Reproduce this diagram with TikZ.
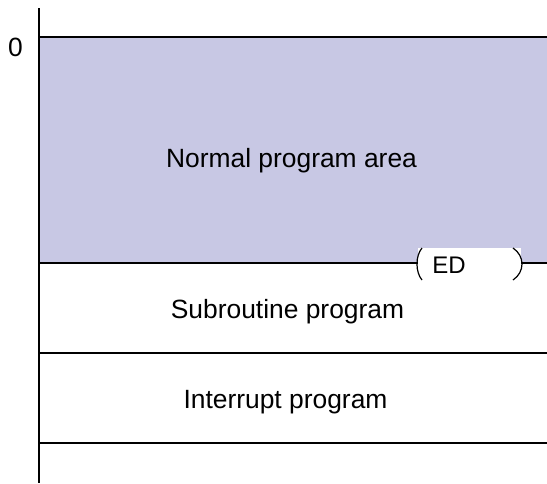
\documentclass[tikz,border=0pt]{standalone}
\usepackage{fontspec}
\setmainfont{Liberation Sans}
\begin{document}
\begin{tikzpicture}[x=1pt,y=-1pt,
  lbl/.style={font=\fontsize{26.4}{30}\selectfont, inner sep=0pt, anchor=base},
  edlbl/.style={font=\fontsize{24}{28}\selectfont, inner sep=0pt, anchor=base},
  rail/.style={line width=1.6pt, black},
  paren/.style={line width=1.2pt, black}]
\useasboundingbox (0,0) rectangle (547,483);
\definecolor{areafill}{RGB}{200,200,228}
\fill[areafill] (39,37) rectangle (547,263);
% horizontal lines
\coordinate (l0a) at (39,37);  \coordinate (l0b) at (547,37);
\coordinate (l1a) at (39,263); \coordinate (l1b) at (547,263);
\coordinate (l2a) at (39,353); \coordinate (l2b) at (547,353);
\coordinate (l3a) at (39,443); \coordinate (l3b) at (547,443);
\draw[rail] (l0a) -- (l0b);
\draw[rail] (l1a) -- (l1b);
\draw[rail] (l2a) -- (l2b);
\draw[rail] (l3a) -- (l3b);
% vertical axis
\coordinate (vtop) at (39,8); \coordinate (vbot) at (39,483);
\draw[rail] (vtop) -- (vbot);
% ED coil
\fill[white] (418,248) rectangle (521,282);
\draw[paren] (422,248) .. controls (415.3,256) and (415.3,272) .. (422,280);
\draw[paren] (513,248) .. controls (525,256) and (525,272) .. (513,280);
\node[edlbl] (ed) at (449,273) {ED};
% labels
\node[lbl] (zero) at (15.5,56) {0};
\node[lbl] (normal) at (291.5,167) {Normal program area};
\node[lbl] (sub) at (287.5,318) {Subroutine program};
\node[lbl] (intr) at (285.5,408) {Interrupt program};
\end{tikzpicture}
\end{document}
